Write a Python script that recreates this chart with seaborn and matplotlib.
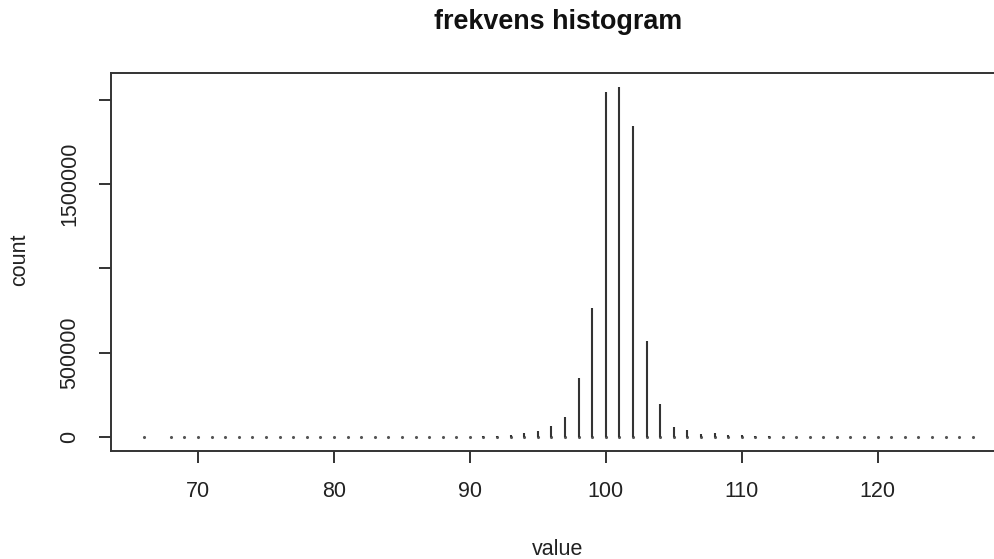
import numpy as np
import pandas as pd
import matplotlib
matplotlib.use("Agg")
import matplotlib.pyplot as plt
import seaborn as sns

# values and how often each occurs
values = [66] + list(range(68, 128))
counts = [
    1, 1, 2, 3, 5, 8, 12, 18, 27, 40, 60, 90, 130, 190, 270, 380, 520, 700,
    900, 1150, 1400, 1700, 2000, 2500, 3500, 7000, 11000, 24000, 36000,
    68000, 118000, 348000, 765000, 2050000, 2080000, 1845000, 570000,
    195000, 61000, 44000, 19000, 21000, 10000, 11000,
    4000, 3000, 2200, 1600, 1150, 800, 550, 380, 260, 170, 110, 70, 45, 28,
    16, 8, 3,
]

x_ticks = [70, 80, 90, 100, 110, 120]
y_ticks = [0, 500000, 1000000, 1500000, 2000000]
y_tick_labels = ["0", "500000", "", "1500000", ""]

df = pd.DataFrame({"value": values, "count": counts})
df["base"] = 0

sns.set_theme(style="ticks")
plt.rcParams["font.family"] = ["Liberation Sans", "DejaVu Sans"]

ink = "#333333"

fig = plt.figure(figsize=(9.94, 5.59), dpi=100)
ax = fig.add_axes([110.5 / 994, 1 - 451 / 559, (1006 - 110.5) / 994, (451 - 72.5) / 559])

# type="h" style lines from zero up to each count
ax.vlines(df["value"], 0, df["count"], color=ink, linewidth=1.5)
# the round line ends show up as small dots where the count is tiny
sns.scatterplot(data=df, x="value", y="base", ax=ax, s=5, color="#555555",
                linewidth=0, legend=False)

# R style axis ranges (4% padding)
xr = df["value"].max() - df["value"].min()
ax.set_xlim(df["value"].min() - 0.04 * xr, df["value"].max() + 0.04 * xr)
yr = df["count"].max()
ax.set_ylim(-0.04 * yr, 1.04 * yr)

ax.set_xticks(x_ticks)
ax.set_xticklabels([str(t) for t in x_ticks])
ax.set_yticks(y_ticks)
ax.set_yticklabels(y_tick_labels, rotation=90, va="center")
ax.set_xlabel("")
ax.set_ylabel("")

ax.tick_params(labelsize=15.5, length=8.6, width=1.4, color=ink, pad=13, labelcolor="#222222")
for s in ax.spines.values():
    s.set_color(ink)
    s.set_linewidth(1.4)

fig.text(558 / 994, 1 - 29 / 559, "frekvens histogram", ha="center", va="baseline",
         fontsize=19.4, fontweight="bold", color="#111111")
fig.text(558 / 994, 1 - 555 / 559, "value", ha="center", va="baseline",
         fontsize=15.5, color="#222222")
fig.text(20 / 994, 1 - 260 / 559, "count", ha="center", va="center", rotation=90,
         fontsize=15.5, color="#222222")

fig.savefig("out.png", dpi=100)
